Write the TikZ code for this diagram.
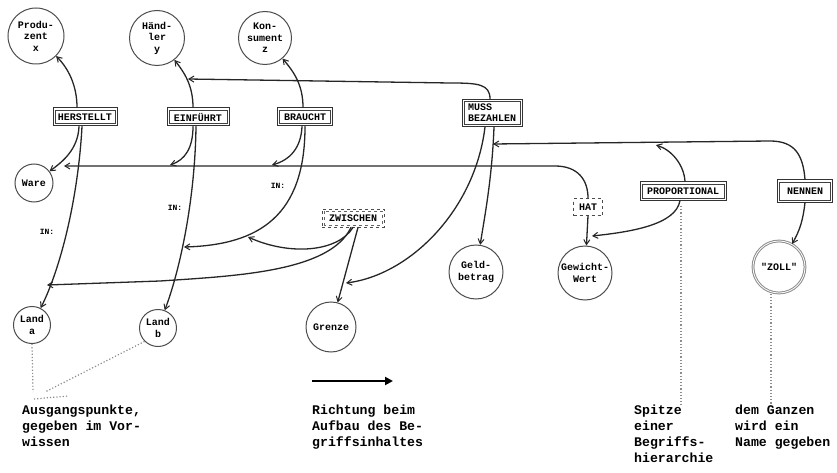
\documentclass[tikz,border=0pt]{standalone}
\usepackage{fontspec}
\setmonofont{Liberation Mono}
\usetikzlibrary{arrows.meta}
\begin{document}
\begin{tikzpicture}[x=1pt,y=-1pt,
  link/.style={line width=1.3pt, draw=black!85, line cap=round},
  arr/.style={link, -{Straight Barb[length=5pt,width=6pt,line width=1pt]}},
  concept/.style={circle, draw=black!70, line width=1pt, inner sep=0pt,
    minimum size=#1, align=center, font=\ttfamily\bfseries\fontsize{10}{11.5}\selectfont},
  relbase/.style={rectangle, inner xsep=3pt, inner ysep=0pt, minimum height=18pt, align=center,
    font=\ttfamily\bfseries\fontsize{10}{11}\selectfont},
  innerframe/.style={path picture={\draw[#1]
      ([shift={(2.2pt,-2.2pt)}]path picture bounding box.north west) rectangle
      ([shift={(-2.2pt,2.2pt)}]path picture bounding box.south east);}},
  rel/.style={relbase, draw=black!80, line width=1pt,
    innerframe={line width=0.6pt, draw=black!75}},
  reldash/.style={relbase, draw=black!70, line width=0.8pt, dashed,
    innerframe={line width=0.5pt, draw=black!60, dashed}},
  lbl/.style={inner sep=0pt, font=\ttfamily\bfseries\fontsize{8}{9}\selectfont},
  hint/.style={dotted, line width=1.2pt, draw=black!45},
  note/.style={anchor=north west, align=left, inner sep=0pt,
    font=\ttfamily\bfseries\fontsize{13.2}{16}\selectfont},
]
\useasboundingbox (0,0) rectangle (837,473);

% concepts
\node[concept=56pt] (prod)   at (36,36)   {Produ-\\zent\\x};
\node[concept=55pt] (haend)  at (157,38)  {Händ-\\ler\\y};
\node[concept=53pt] (kons)   at (265,38)  {Kon-\\sument\\z};
\node[concept=38pt] (ware)   at (34,183)  {Ware};
\node[concept=37pt] (landa)  at (32,325)  {Land\\a};
\node[concept=37pt] (landb)  at (158,328) {Land\\b};
\node[concept=50pt] (grenze) at (331,327) {Grenze};
\node[concept=54pt] (geld)   at (476,272) {Geld-\\betrag};
\node[concept=54pt] (gew)    at (585,273) {Gewicht-\\Wert};
\node[concept=52pt, double, double distance=0.8pt, draw=black!45] (zoll) at (779,267) {"ZOLL"};

% relations
\node[rel, minimum width=64pt] (herst)    at (85,117)  {HERSTELLT};
\node[rel, minimum width=62pt] (einf)     at (198,117) {EINFÜHRT};
\node[rel, minimum width=55pt] (braucht)  at (305,117) {BRAUCHT};
\node[rel, minimum width=60pt, minimum height=27pt, align=left] (muss) at (492,113) {MUSS\\BEZAHLEN};
\node[reldash, minimum width=62pt] (zwischen) at (353,218) {ZWISCHEN};
\node[relbase, minimum width=29pt, minimum height=17pt, draw=black!70, line width=0.8pt, dashed] (hat) at (588,207) {HAT};
\node[rel, minimum width=86pt] (prop)     at (683,191) {PROPORTIONAL};
\node[rel, minimum width=55pt, minimum height=22pt] (nennen) at (805,191) {NENNEN};

% junctions on other links
\coordinate (m1)  at (188,79);
\coordinate (w1)  at (64,166);
\coordinate (w2)  at (170,165);
\coordinate (w3)  at (272,165);
\coordinate (b1)  at (184,247);
\coordinate (z1)  at (248,237);
\coordinate (la1) at (47,285);
\coordinate (gr1) at (346,283);
\coordinate (g1)  at (592,236);
\coordinate (p1)  at (656,145);
\coordinate (mb1) at (493,144);

% upward links
\draw[arr] ([xshift=-8pt]herst.north) .. controls (77,85) and (68,68) .. (prod);
\draw[arr] ([xshift=-5pt]einf.north) .. controls (193,85) and (184,72) .. (haend);
\draw[arr] ([xshift=-2pt]braucht.north) .. controls (303,85) and (294,72) .. (kons);
\draw[arr] ([xshift=-2pt]muss.north) .. controls (490,84) and (478,83) .. (450,83) -- (m1);

% HERSTELLT
\draw[arr] ([xshift=-6pt]herst.south) .. controls (78,150) and (62,162) .. (ware);
\draw[arr] ([xshift=-3pt]herst.south) .. controls (78,200) and (60,270) .. (landa);
\node[lbl] (in1) at (47,232) {IN:};

% EINFÜHRT
\draw[arr] ([xshift=-5pt]einf.south) .. controls (193,148) and (185,160) .. (w2);
\draw[arr] ([xshift=-2pt]einf.south) .. controls (195,200) and (180,270) .. (landb);
\node[lbl] (in2) at (175,208) {IN:};

% BRAUCHT
\draw[arr] ([xshift=-3pt]braucht.south) .. controls (301,148) and (290,160) .. (w3);
\draw[arr] (braucht.south) .. controls (305,215) and (260,245) .. (b1);
\node[lbl] (in3) at (278,186) {IN:};

% HAT
\draw[arr] (hat.north) .. controls (588,180) and (578,166) .. (555,166) -- (w1);
\draw[arr] (hat.south) -- (gew);

% PROPORTIONAL
\draw[arr] ([xshift=-3pt]prop.south) .. controls (676,225) and (630,232) .. (g1);
\draw[arr] ([xshift=2pt]prop.north) .. controls (684,165) and (672,150) .. (p1);

% NENNEN
\draw[arr] (nennen.north) .. controls (803,155) and (795,141) .. (770,141) -- (mb1);
\draw[arr] (nennen.south) .. controls (803,220) and (800,230) .. (zoll);

% MUSS BEZAHLEN
\draw[arr] ([xshift=2pt]muss.south) .. controls (492,180) and (484,220) .. (geld);
\draw[arr] ([xshift=-7pt]muss.south) .. controls (475,210) and (410,275) .. (gr1);

% ZWISCHEN
\draw[arr] ([xshift=5pt]zwischen.south) -- (grenze);
\draw[arr] (zwischen.south) .. controls (338,252) and (290,256) .. (z1);
\draw[arr] ([xshift=-2pt]zwischen.south) .. controls (330,272) and (235,276) .. (160,281) -- (la1);

% dotted pointers to the notes
\draw[hint] (landa.south) -- (33,392);
\draw[hint] (landb.south west) -- (45,392);
\draw[hint] (34,399) -- (68,396);
\draw[hint] (681,206) -- (681,405);
\draw[hint] ([xshift=-8pt]zoll.south) -- (771,405);

% direction arrow
\coordinate (dirA) at (312,381);
\coordinate (dirB) at (393,381);
\draw[line width=2.4pt, -{Triangle[length=8pt,width=8pt]}] (dirA) -- (dirB);

% notes
\node[note] (n1) at (22,405)  {Ausgangspunkte,\\gegeben im Vor-\\wissen};
\node[note] (n2) at (312,405) {Richtung beim\\Aufbau des Be-\\griffsinhaltes};
\node[note] (n3) at (634,405) {Spitze\\einer\\Begriffs-\\hierarchie};
\node[note] (n4) at (735,405) {dem Ganzen\\wird ein\\Name gegeben};
\end{tikzpicture}
\end{document}
